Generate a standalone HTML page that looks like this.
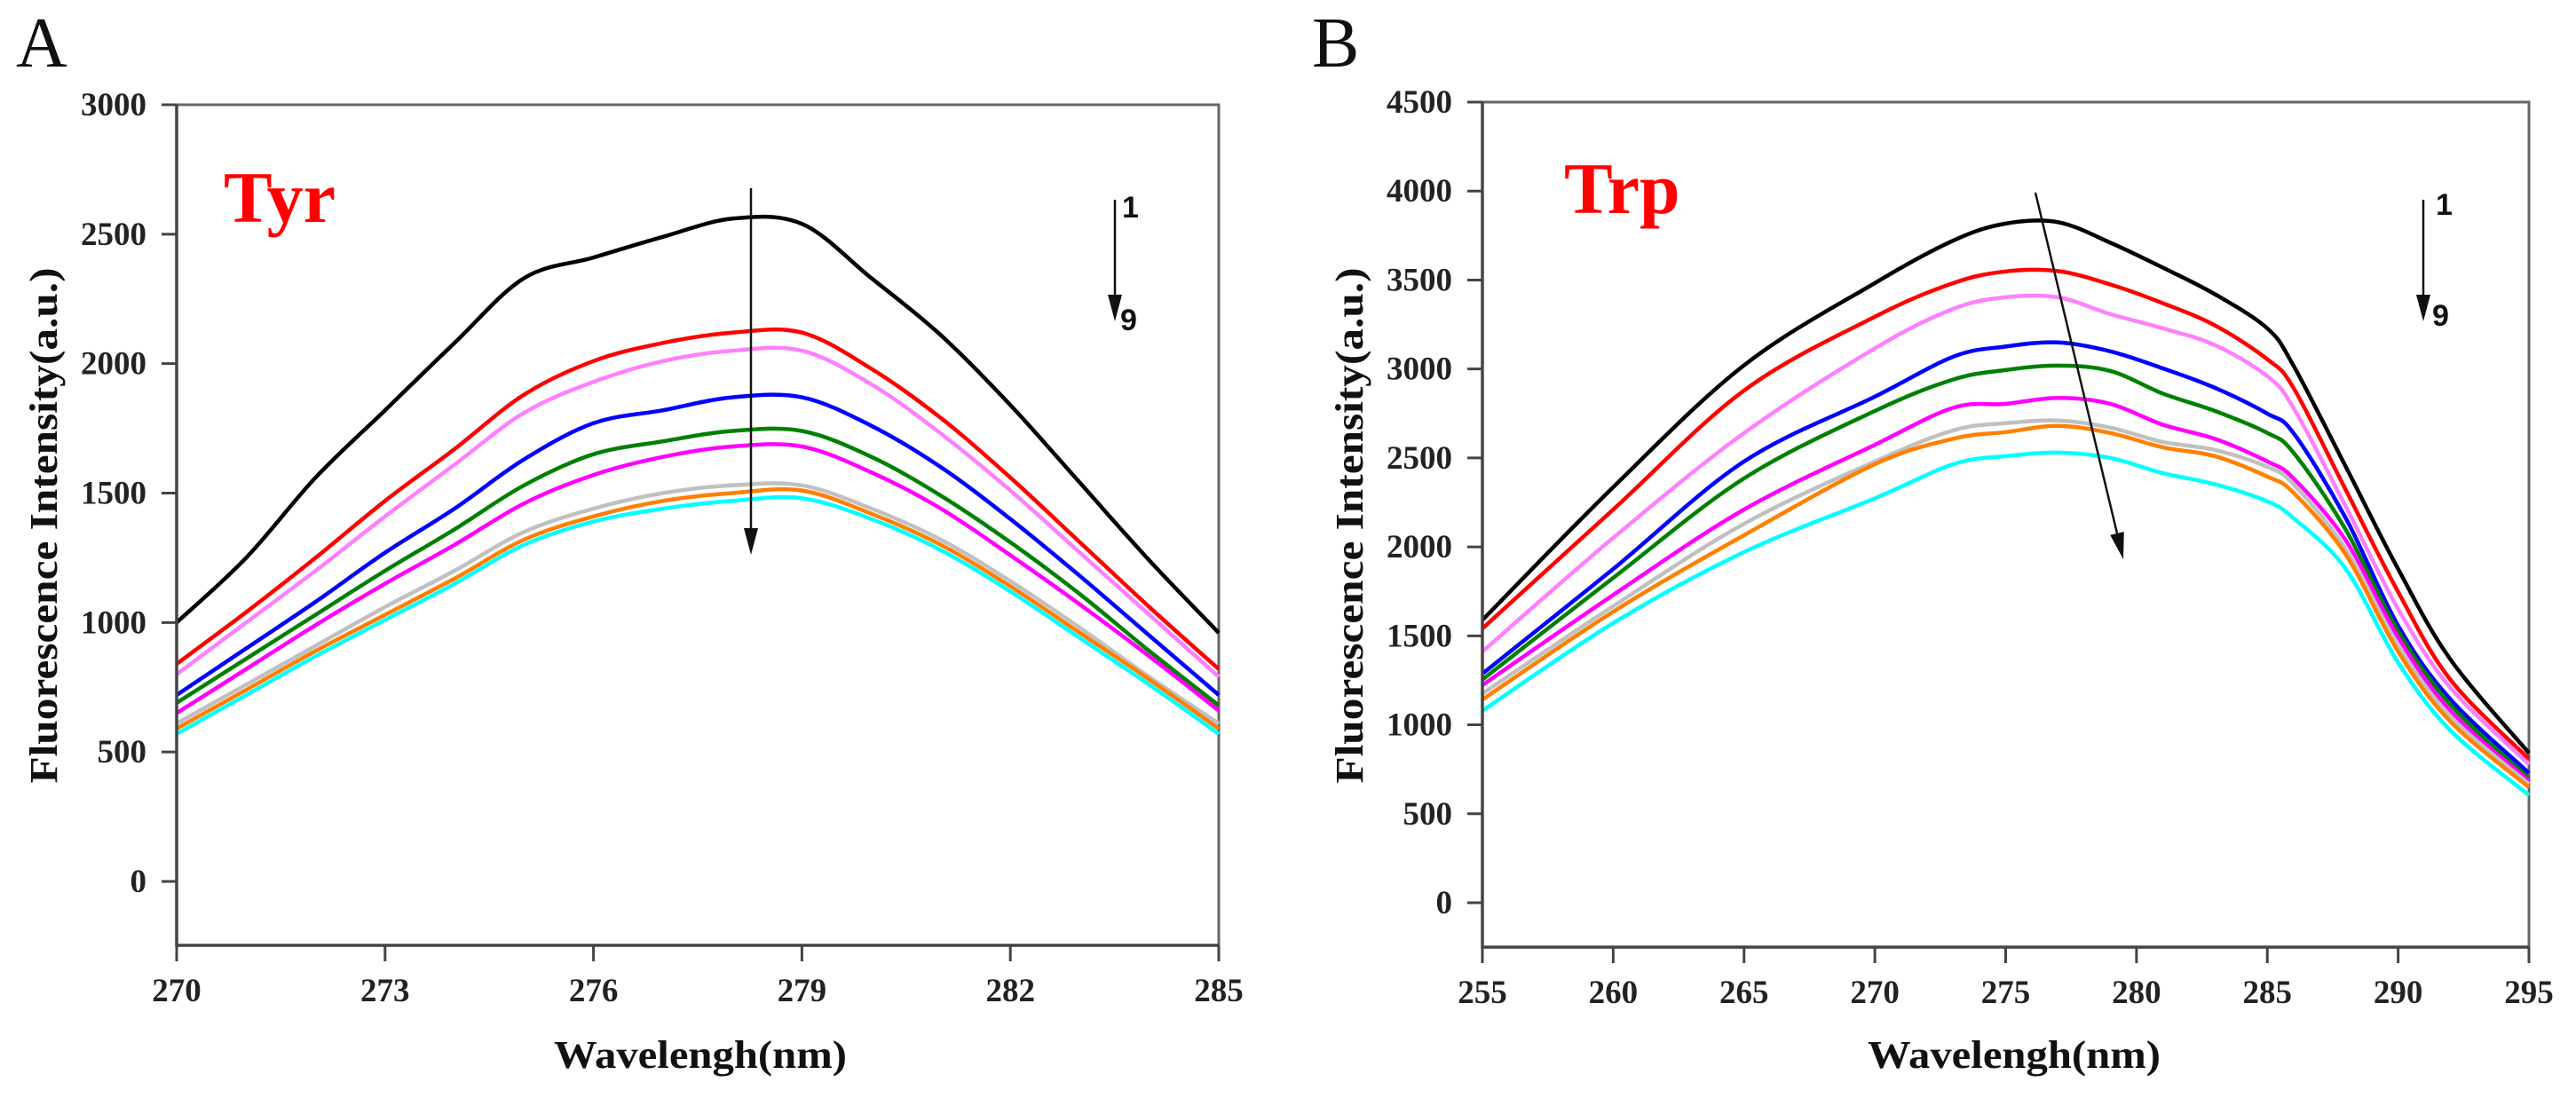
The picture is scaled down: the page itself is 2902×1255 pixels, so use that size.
<!DOCTYPE html>
<html><head><meta charset="utf-8"><style>
html,body{margin:0;padding:0;background:#fff;}
svg{display:block;}
.tick{font-family:"Liberation Serif",serif;font-weight:bold;font-size:37px;fill:#222;}
.title{font-family:"Liberation Serif",serif;font-weight:bold;font-size:44px;fill:#111;}
.panel{font-family:"Liberation Serif",serif;font-size:80px;fill:#111;}
.tag{font-family:"Liberation Serif",serif;font-weight:bold;font-size:82px;fill:#ff0000;}
.num{font-family:"Liberation Sans",sans-serif;font-weight:bold;font-size:34px;fill:#111;}
</style></head><body>
<svg id="chart" width="2902" height="1255" viewBox="0 0 2902 1255" xmlns="http://www.w3.org/2000/svg"></svg>
<script>
const colors = ["#000000","#ff0000","#ff80ff","#0000ff","#008000","#ff00ff","#c0c0c0","#ff8000","#00ffff"];
const seriesNames = ["1","2","3","4","5","6","7","8","9"];
// Panel A (Tyr)
const xA = [270,271,272,273,274,275,276,277,278,279,280,281,282,283,284,285];
const a1 = [1000,1250,1560,1820,2080,2330,2410,2490,2560,2540,2330,2110,1840,1540,1240,960];
const a2 = [840,1040,1250,1470,1670,1880,2010,2080,2120,2120,1980,1790,1560,1310,1060,820];
const a3 = [800,1000,1200,1410,1610,1810,1930,2010,2050,2050,1920,1730,1510,1270,1030,790];
const a4 = [720,900,1080,1270,1440,1630,1770,1820,1870,1870,1760,1600,1400,1180,950,720];
const a5 = [690,860,1030,1200,1360,1530,1650,1700,1740,1740,1640,1490,1310,1110,890,680];
const a6 = [650,820,990,1150,1300,1460,1570,1640,1680,1680,1580,1440,1260,1070,870,660];
const a7 = [610,760,910,1060,1200,1350,1440,1500,1530,1530,1440,1320,1160,980,790,610];
const a8 = [590,740,890,1030,1170,1320,1410,1470,1500,1510,1420,1300,1140,960,780,590];
const a9 = [570,720,870,1010,1150,1300,1390,1440,1470,1480,1400,1280,1120,940,760,570];
const xTicksA = [270,273,276,279,282,285];
const yTicksA = [0,500,1000,1500,2000,2500,3000];
// Panel B (Trp)
const xB = [255,260,265,270,273,275,277,279,281,283,285,286,288,290,292,295];
const b1 = [1589,2336,3021,3483,3722,3817,3825,3710,3570,3420,3228,3019,2450,1876,1367,841];
const b2 = [1541,2210,2879,3293,3483,3548,3550,3475,3370,3245,3054,2894,2320,1747,1253,808];
const b3 = [1412,2051,2640,3116,3338,3403,3403,3308,3229,3134,2959,2782,2226,1651,1208,778];
const b4 = [1287,1876,2480,2844,3069,3126,3149,3099,3004,2894,2749,2640,2161,1557,1143,729];
const b5 = [1254,1826,2385,2764,2941,2994,3019,2989,2862,2764,2640,2530,2096,1527,1113,699];
const b6 = [1223,1730,2210,2574,2782,2804,2837,2804,2687,2607,2480,2385,2036,1492,1078,684];
const b7 = [1175,1667,2130,2480,2655,2695,2710,2670,2590,2545,2450,2352,1986,1447,1048,666];
const b8 = [1142,1636,2066,2465,2608,2645,2680,2640,2560,2510,2395,2305,1956,1412,1018,649];
const b9 = [1079,1572,1971,2273,2465,2510,2530,2500,2415,2352,2256,2161,1876,1350,968,604];
const xTicksB = [255,260,265,270,275,280,285,290,295];
const yTicksB = [0,500,1000,1500,2000,2500,3000,3500,4000,4500];

const NS="http://www.w3.org/2000/svg";
const svg=document.getElementById('chart');
function mk(tag,attrs,parent,text){const e=document.createElementNS(NS,tag);for(const k in attrs)e.setAttribute(k,attrs[k]);if(text!==undefined)e.textContent=text;(parent||svg).appendChild(e);return e;}
function smoothPath(pts){let d="M"+pts[0][0].toFixed(1)+","+pts[0][1].toFixed(1);for(let i=0;i<pts.length-1;i++){const p0=pts[Math.max(0,i-1)],p1=pts[i],p2=pts[i+1],p3=pts[Math.min(pts.length-1,i+2)];const c1=[p1[0]+(p2[0]-p0[0])/6,p1[1]+(p2[1]-p0[1])/6];const c2=[p2[0]-(p3[0]-p1[0])/6,p2[1]-(p3[1]-p1[1])/6];d+=" C"+c1[0].toFixed(1)+","+c1[1].toFixed(1)+" "+c2[0].toFixed(1)+","+c2[1].toFixed(1)+" "+p2[0].toFixed(1)+","+p2[1].toFixed(1);}return d;}

function panel(cfg){
  const g=mk('g',{});
  
  
  const sx=v=>cfg.L+(v-cfg.x0)/(cfg.x1-cfg.x0)*(cfg.R-cfg.L);
  const sy=v=>cfg.y0px-(v)/(cfg.ytop)*(cfg.y0px-cfg.T);
  const fr=mk('path',{d:`M${cfg.L},${cfg.T} H${cfg.R} V${cfg.B}`,fill:'none',stroke:'#666',"stroke-width":3},g);
  
  
  cfg.series.forEach((vals,i)=>{
    const pts=cfg.xs.map((x,j)=>[sx(x),sy(vals[j])]);
    const p=mk('path',{d:smoothPath(pts),fill:'none',stroke:colors[i],"stroke-width":4.5,"stroke-linejoin":"round"},g);
    
    
  });
  const ax=mk('path',{d:`M${cfg.L},${cfg.T} V${cfg.B} H${cfg.R}`,fill:'none',stroke:'#444',"stroke-width":3.5},g);
  
  
  cfg.yt.forEach(v=>{
    const y=sy(v);
    mk('line',{x1:cfg.L-17,x2:cfg.L,y1:y,y2:y,stroke:'#444',"stroke-width":3},g);
    const t=mk('text',{x:cfg.L-34,y:y+12,"text-anchor":"end",class:'tick'},g,String(v));
    
    
  });
  cfg.xt.forEach(v=>{
    const x=sx(v);
    mk('line',{x1:x,x2:x,y1:cfg.B,y2:cfg.B+18,stroke:'#444',"stroke-width":3},g);
    const t=mk('text',{x:x,y:cfg.B+63,"text-anchor":"middle",class:'tick'},g,String(v));
    
    
  });
  const yt=mk('text',{x:0,y:0,transform:`translate(${cfg.ytx},592) rotate(-90)`,"text-anchor":"middle",class:'title',textLength:581,lengthAdjust:'spacingAndGlyphs'},g,'Fluorescence Intensity(a.u.)');
  
  
  const xt=mk('text',{x:cfg.xtx,y:1203,"text-anchor":"middle",class:'title',textLength:330,lengthAdjust:'spacingAndGlyphs'},g,'Wavelengh(nm)');
  
  
  return g;
}
panel({name:'panel-a-tyr',L:199,R:1373,T:118,B:1065,x0:270,x1:285,y0px:993,ytop:3000,xs:xA,series:[a1,a2,a3,a4,a5,a6,a7,a8,a9],xt:xTicksA,yt:yTicksA,ytx:64,xtx:789});
panel({name:'panel-b-trp',L:1670,R:2849,T:115,B:1067,x0:255,x1:295,y0px:1017,ytop:4500,xs:xB,series:[b1,b2,b3,b4,b5,b6,b7,b8,b9],xt:xTicksB,yt:yTicksB,ytx:1535,xtx:2269});

function txt(x,y,cls,s,name,anchor){const t=mk('text',{x:x,y:y,class:cls,"text-anchor":anchor||"start"},svg,s);return t;}
txt(18,75,'panel','A','panel-label-a');
txt(1478,75,'panel','B','panel-label-b');
txt(252,250,'tag','Tyr','tyr-label');
txt(1762,240,'tag','Trp','trp-label');
txt(1264,245,'num','1','indicator-1-a');
txt(1262,372,'num','9','indicator-9-a');
txt(2744,242,'num','1','indicator-1-b');
txt(2740,367,'num','9','indicator-9-b');

function arrow(x1,y1,x2,y2,name,w){
  const g=mk('g',{});
  
  
  const dx=x2-x1,dy=y2-y1,len=Math.hypot(dx,dy),ux=dx/len,uy=dy/len;
  const hl=30,hw=8;
  const bx=x2-ux*hl,by=y2-uy*hl;
  mk('line',{x1:x1,y1:y1,x2:bx,y2:by,stroke:'#111',"stroke-width":w||2.5},g);
  mk('polygon',{points:`${x2},${y2} ${bx-uy*hw},${by+ux*hw} ${bx+uy*hw},${by-ux*hw}`,fill:'#111'},g);
}
arrow(846,212,846,625,'quench-arrow-a');
arrow(1256,225,1256,362,'order-arrow-a');
arrow(2293,217,2392,630,'quench-arrow-b');
arrow(2730,225,2730,362,'order-arrow-b');
</script>
</body></html>
